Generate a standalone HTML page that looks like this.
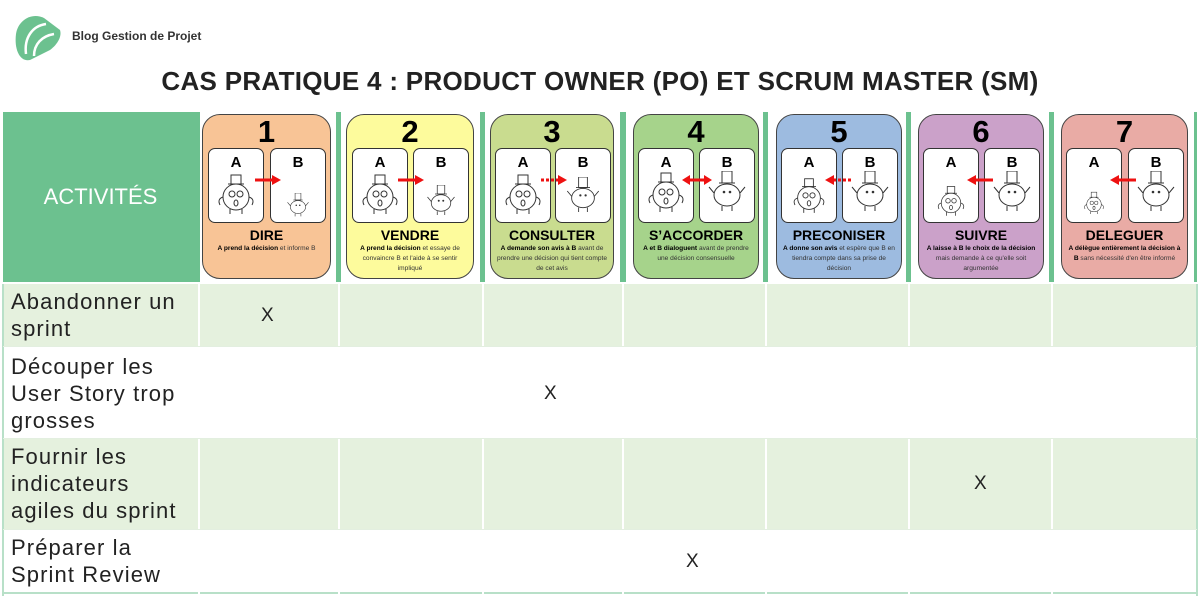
<!DOCTYPE html>
<html><head><meta charset="utf-8"><style>
*{margin:0;padding:0;box-sizing:border-box}
body{width:1200px;height:600px;background:#fff;position:relative;overflow:hidden;font-family:"Liberation Sans",sans-serif}
.a{position:absolute}
.brand{left:72px;top:29px;font-size:12px;font-weight:bold;color:#333}
.title{left:0;width:1200px;top:66px;text-align:center;font-size:26px;font-weight:bold;color:#222;letter-spacing:0.3px}
.hdr{left:3px;top:112px;width:1194px;height:170px;background:#6cc18f}
.act{left:3px;top:112px;width:195px;height:170px;color:#fff;font-size:22px;display:flex;align-items:center;justify-content:center}
.wbg{background:#fff;top:112px;height:170px}
.card{top:114px;height:165px;border:1.5px solid #444;border-radius:18px}
.num{position:absolute;left:0;right:0;top:0;text-align:center;font-size:31px;font-weight:bold;line-height:34px;color:#000}
.box{position:absolute;top:33px;width:56px;height:75px;background:#fff;border:1.5px solid #333;border-radius:7px;text-align:center;font-weight:bold;font-size:15px;padding-top:5px}
.box svg{position:absolute;left:50%;transform:translateX(-50%)}
.ct{position:absolute;left:0;right:0;top:112px;text-align:center;font-weight:bold;font-size:14px;line-height:16px}
.cd{position:absolute;left:4px;right:4px;top:129px;text-align:center;font-size:6.6px;line-height:10px;color:#333}
.cd b{color:#000}
.arr{position:absolute;top:60px}
.row{left:3px;width:1194px}
.g{background:#e5f1de}
.lbl{left:11px;font-size:22px;line-height:27px;color:#222;letter-spacing:1.1px}
.x{font-size:19px;color:#222}
.vl{width:1.5px;background:#fff;top:284px;height:310px}
</style></head><body>
<svg class="a" style="left:12px;top:12px" width="50" height="50" viewBox="0 0 50 50"><path d="M4 22C6 8 20 0 32 6L48 18C50 24 46 32 38 38L18 48C8 50 2 38 4 22Z" fill="#6cc18f"/><path d="M14 42C12 26 20 14 34 12" stroke="#fff" stroke-width="2.5" fill="none"/><path d="M22 44C22 32 30 24 42 22" stroke="#fff" stroke-width="2.5" fill="none"/></svg>
<div class="a brand">Blog Gestion de Projet</div>
<div class="a title">CAS PRATIQUE 4 : PRODUCT OWNER (PO) ET SCRUM MASTER (SM)</div>

<div class="a hdr"></div>
<div class="a act">ACTIVITÉS</div>
<div class="a wbg" style="left:200px;width:136px"></div>
<div class="a wbg" style="left:341px;width:139px"></div>
<div class="a wbg" style="left:485px;width:135px"></div>
<div class="a wbg" style="left:626px;width:137px"></div>
<div class="a wbg" style="left:768px;width:138px"></div>
<div class="a wbg" style="left:911px;width:138px"></div>
<div class="a wbg" style="left:1054px;width:140px"></div>

<svg width="0" height="0" style="position:absolute"><defs>
<g id="fa"><rect x="-5" y="-22" width="10" height="9" fill="none" stroke="#333"/><line x1="-8" y1="-13" x2="8" y2="-13" stroke="#333"/><circle cx="0" cy="0" r="13" fill="#fff" stroke="#333"/><circle cx="-4" cy="-3" r="3" fill="none" stroke="#333"/><circle cx="4" cy="-3" r="3" fill="none" stroke="#333"/><ellipse cx="0" cy="6" rx="2" ry="3" fill="none" stroke="#333"/><path d="M-13 0q-6 2-3 8M13 0q6 2 3 8M-6 12v5M6 12v5" stroke="#333" fill="none"/></g>
<g id="fb"><rect x="-5" y="-24" width="10" height="12" fill="none" stroke="#333"/><line x1="-8" y1="-12" x2="8" y2="-12" stroke="#333"/><ellipse cx="0" cy="0" rx="13" ry="11" fill="#fff" stroke="#333"/><circle cx="-3" cy="-3" r="1.3" fill="#333"/><circle cx="3" cy="-3" r="1.3" fill="#333"/><path d="M-13 -2l-5-6M13 -2l5-6M-5 11v5M5 11v5" stroke="#333" fill="none"/></g>
</defs></svg>

<div class="a card" style="left:202px;width:129px;background:#f8c496">
<div class="num">1</div>
<div class="box" style="left:5px">A<svg style="top:24px" width="50" height="48" viewBox="-25 -24 50 48"><use href="#fa"/></svg></div>
<div class="box" style="left:67px">B<svg style="top:44px" width="30" height="28" viewBox="-25 -24 50 48"><use href="#fb"/></svg></div>
<svg class="arr" style="left:52px" width="26" height="10"><line x1="0" y1="5" x2="18" y2="5" stroke="#e11" stroke-width="3"/><path d="M17 0L26 5L17 10Z" fill="#e11"/></svg>
<div class="ct">DIRE</div>
<div class="cd"><b>A prend la décision</b> et informe B</div>
</div>
<div class="a card" style="left:346px;width:128px;background:#fdfb9c">
<div class="num">2</div>
<div class="box" style="left:5px">A<svg style="top:24px" width="50" height="48" viewBox="-25 -24 50 48"><use href="#fa"/></svg></div>
<div class="box" style="left:66px">B<svg style="top:36px" width="38" height="36" viewBox="-25 -24 50 48"><use href="#fb"/></svg></div>
<svg class="arr" style="left:51px" width="26" height="10"><line x1="0" y1="5" x2="18" y2="5" stroke="#e11" stroke-width="3"/><path d="M17 0L26 5L17 10Z" fill="#e11"/></svg>
<div class="ct">VENDRE</div>
<div class="cd"><b>A prend la décision</b> et essaye de convaincre B et l'aide à se sentir impliqué</div>
</div>
<div class="a card" style="left:490px;width:124px;background:#c9dc8f">
<div class="num">3</div>
<div class="box" style="left:4px">A<svg style="top:24px" width="50" height="48" viewBox="-25 -24 50 48"><use href="#fa"/></svg></div>
<div class="box" style="left:64px">B<svg style="top:28px" width="44" height="42" viewBox="-25 -24 50 48"><use href="#fb"/></svg></div>
<svg class="arr" style="left:50px" width="26" height="10"><line x1="0" y1="5" x2="18" y2="5" stroke="#e11" stroke-width="3" stroke-dasharray="3 2"/><path d="M17 0L26 5L17 10Z" fill="#e11"/></svg>
<div class="ct">CONSULTER</div>
<div class="cd"><b>A demande son avis à B</b> avant de prendre une décision qui tient compte de cet avis</div>
</div>
<div class="a card" style="left:633px;width:126px;background:#a6d38b">
<div class="num">4</div>
<div class="box" style="left:4px">A<svg style="top:22px" width="50" height="48" viewBox="-25 -24 50 48"><use href="#fa"/></svg></div>
<div class="box" style="left:65px">B<svg style="top:22px" width="50" height="48" viewBox="-25 -24 50 48"><use href="#fb"/></svg></div>
<svg class="arr" style="left:48px" width="30" height="10"><path d="M0 5L8 0L8 10Z M30 5L22 0L22 10Z" fill="#e11"/><line x1="6" y1="5" x2="24" y2="5" stroke="#e11" stroke-width="3"/></svg>
<div class="ct">S’ACCORDER</div>
<div class="cd"><b>A et B dialoguent</b> avant de prendre une décision consensuelle</div>
</div>
<div class="a card" style="left:776px;width:126px;background:#9dbbe0">
<div class="num">5</div>
<div class="box" style="left:4px">A<svg style="top:28px" width="44" height="42" viewBox="-25 -24 50 48"><use href="#fa"/></svg></div>
<div class="box" style="left:65px">B<svg style="top:22px" width="50" height="48" viewBox="-25 -24 50 48"><use href="#fb"/></svg></div>
<svg class="arr" style="left:48px" width="26" height="10"><path d="M9 0L0 5L9 10Z" fill="#e11"/><line x1="8" y1="5" x2="26" y2="5" stroke="#e11" stroke-width="3" stroke-dasharray="3 2"/></svg>
<div class="ct">PRECONISER</div>
<div class="cd"><b>A donne son avis</b> et espère que B en tiendra compte dans sa prise de décision</div>
</div>
<div class="a card" style="left:918px;width:126px;background:#cba1c9">
<div class="num">6</div>
<div class="box" style="left:4px">A<svg style="top:36px" width="38" height="36" viewBox="-25 -24 50 48"><use href="#fa"/></svg></div>
<div class="box" style="left:65px">B<svg style="top:22px" width="50" height="48" viewBox="-25 -24 50 48"><use href="#fb"/></svg></div>
<svg class="arr" style="left:48px" width="26" height="10"><path d="M9 0L0 5L9 10Z" fill="#e11"/><line x1="8" y1="5" x2="26" y2="5" stroke="#e11" stroke-width="3"/></svg>
<div class="ct">SUIVRE</div>
<div class="cd"><b>A laisse à B le choix de la décision</b> mais demande à ce qu'elle soit argumentée</div>
</div>
<div class="a card" style="left:1061px;width:127px;background:#e9aba5">
<div class="num">7</div>
<div class="box" style="left:4px">A<svg style="top:42px" width="28" height="27" viewBox="-25 -24 50 48"><use href="#fa"/></svg></div>
<div class="box" style="left:66px">B<svg style="top:22px" width="50" height="48" viewBox="-25 -24 50 48"><use href="#fb"/></svg></div>
<svg class="arr" style="left:48px" width="26" height="10"><path d="M9 0L0 5L9 10Z" fill="#e11"/><line x1="8" y1="5" x2="26" y2="5" stroke="#e11" stroke-width="3"/></svg>
<div class="ct">DELEGUER</div>
<div class="cd"><b>A délègue entièrement la décision à B</b> sans nécessité d'en être informé</div>
</div>

<div class="a row g" style="top:284px;height:63px"></div>
<div class="a row" style="top:347px;height:92px"></div>
<div class="a row g" style="top:439px;height:90px"></div>
<div class="a row" style="top:529px;height:65px;border-bottom:2px solid #b8e0c8"></div>
<div class="a" style="left:2px;top:284px;width:2px;height:312px;background:#b8e0c8"></div>
<div class="a" style="left:1196px;top:284px;width:2px;height:312px;background:#b8e0c8"></div>
<div class="a vl" style="left:198px"></div><div class="a vl" style="left:338px"></div><div class="a vl" style="left:482px"></div><div class="a vl" style="left:622px"></div><div class="a vl" style="left:765px"></div><div class="a vl" style="left:908px"></div><div class="a vl" style="left:1051px"></div>
<div class="a" style="left:3px;top:346px;width:1194px;height:1px;background:#e3efe0"></div>
<div class="a" style="left:3px;top:438px;width:1194px;height:1px;background:#e3efe0"></div>
<div class="a" style="left:3px;top:529px;width:1194px;height:1px;background:#e3efe0"></div>

<div class="a lbl" style="top:288px">Abandonner un<br>sprint</div>
<div class="a lbl" style="top:353px">Découper les<br>User Story trop<br>grosses</div>
<div class="a lbl" style="top:443px">Fournir les<br>indicateurs<br>agiles du sprint</div>
<div class="a lbl" style="top:534px">Préparer la<br>Sprint Review</div>
<div class="a x" style="left:261px;top:305px">X</div>
<div class="a x" style="left:544px;top:383px">X</div>
<div class="a x" style="left:974px;top:473px">X</div>
<div class="a x" style="left:686px;top:551px">X</div>
</body></html>
